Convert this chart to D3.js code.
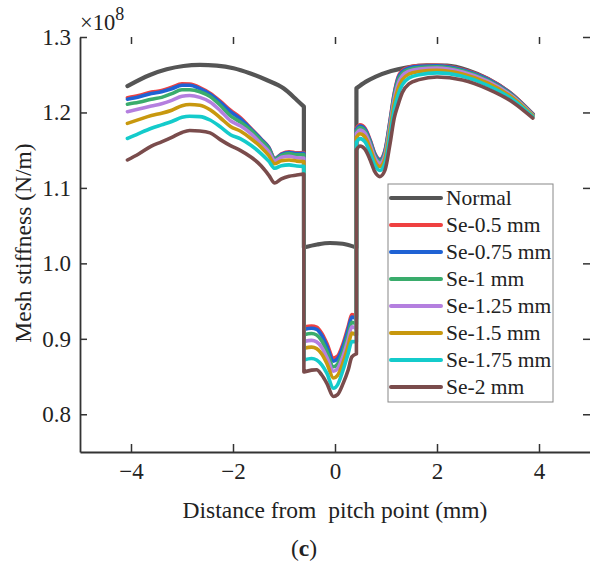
<!DOCTYPE html>
<html><head><meta charset="utf-8">
<script src="https://cdn.jsdelivr.net/npm/d3@7"></script>
<style>
body{margin:0;background:#fff;}
</style>
</head><body>
<svg id="chart" width="590" height="567"></svg>
<script>
// ---------- data ----------
const seriesNames = ["Normal","Se-0.5 mm","Se-0.75 mm","Se-1 mm","Se-1.25 mm","Se-1.5 mm","Se-1.75 mm","Se-2 mm"];
const seriesColors = ["#555555","#ef4141","#1f62d4","#3aac6c","#b47fdf","#c8980e","#14cbcb","#7a4c4c"];
const xTicks = [-4,-2,0,2,4];
const yTicks = [0.8,0.9,1.0,1.1,1.2,1.3];

// Normal gear (three contact zones)
const normalLeftX  = [-4.07,-3.63,-3.30,-2.97,-2.65,-2.32,-1.99,-1.67,-1.34,-1.01,-0.75,-0.61];
const normalLeftY  = [1.2350,1.2497,1.2572,1.2616,1.2630,1.2620,1.2585,1.2519,1.2430,1.2320,1.2166,1.2077];
const normalMidX   = [-0.61,-0.35,-0.10,0.15,0.42];
const normalMidY   = [1.0210,1.0250,1.0270,1.0260,1.0210];
const normalRightX = [0.42,0.60,0.80,1.10,1.40,1.80,2.20,2.60,3.00,3.40,3.88];
const normalRightY = [1.2320,1.2405,1.2475,1.2550,1.2595,1.2625,1.2620,1.2560,1.2445,1.2275,1.1975];

// Faulty gears: shared x positions per zone
const gridLeftX  = [-4.07,-3.85,-3.6,-3.4,-3.2,-3.0,-2.85,-2.65,-2.45,-2.25,-2.05,-1.85,-1.65,-1.45,-1.3,-1.18,-1.05,-0.9,-0.75,-0.61];
const gridMidX   = [-0.61,-0.46,-0.36,-0.26,-0.16,-0.03,0.05,0.16,0.26,0.33,0.42];
const gridRightX = [0.42,0.49,0.59,0.69,0.78,0.88,0.98,1.08,1.16,1.24,1.32,1.45,1.65,2.0,2.5,3.0,3.5,3.88];

const se050Left  = [1.2195,1.2225,1.2270,1.2290,1.2335,1.2380,1.2375,1.2330,1.2255,1.2150,1.2030,1.1930,1.1790,1.1650,1.1540,1.1390,1.1450,1.1480,1.1465,1.1470];
const se050Mid   = [0.9155,0.9170,0.9155,0.9075,0.8940,0.8745,0.8770,0.8940,0.9165,0.9320,0.9295];
const se050Right = [1.1790,1.1835,1.1790,1.1635,1.1460,1.1380,1.1500,1.1900,1.2250,1.2475,1.2555,1.2600,1.2620,1.2625,1.2570,1.2445,1.2225,1.1975];

const se075Left  = [1.2175,1.2205,1.2250,1.2275,1.2315,1.2360,1.2360,1.2315,1.2240,1.2135,1.2010,1.1910,1.1780,1.1645,1.1535,1.1385,1.1445,1.1470,1.1455,1.1460];
const se075Mid   = [0.9125,0.9140,0.9125,0.9045,0.8905,0.8705,0.8735,0.8905,0.9130,0.9290,0.9265];
const se075Right = [1.1776,1.1821,1.1776,1.1622,1.1448,1.1369,1.1487,1.1885,1.2234,1.2457,1.2541,1.2589,1.2611,1.2617,1.2563,1.2438,1.2220,1.1973];

const se100Left  = [1.2110,1.2135,1.2175,1.2200,1.2250,1.2300,1.2300,1.2275,1.2210,1.2095,1.1955,1.1870,1.1765,1.1630,1.1520,1.1380,1.1430,1.1455,1.1440,1.1440];
const se100Mid   = [0.9055,0.9070,0.9050,0.8975,0.8835,0.8630,0.8665,0.8840,0.9060,0.9220,0.9195];
const se100Right = [1.1753,1.1799,1.1754,1.1601,1.1428,1.1350,1.1466,1.1860,1.2207,1.2428,1.2517,1.2571,1.2596,1.2605,1.2552,1.2427,1.2213,1.1969];

const se125Left  = [1.2010,1.2045,1.2085,1.2115,1.2160,1.2215,1.2225,1.2200,1.2140,1.2025,1.1890,1.1820,1.1720,1.1585,1.1480,1.1360,1.1405,1.1420,1.1400,1.1395];
const se125Mid   = [0.8965,0.8980,0.8960,0.8885,0.8755,0.8570,0.8605,0.8775,0.8995,0.9160,0.9135];
const se125Right = [1.1722,1.1768,1.1723,1.1571,1.1401,1.1325,1.1436,1.1826,1.2171,1.2387,1.2485,1.2547,1.2576,1.2588,1.2536,1.2413,1.2202,1.1963];

const se150Left  = [1.1855,1.1905,1.1960,1.1990,1.2030,1.2090,1.2105,1.2095,1.2035,1.1930,1.1815,1.1750,1.1655,1.1540,1.1430,1.1320,1.1360,1.1370,1.1355,1.1350];
const se150Mid   = [0.8875,0.8890,0.8870,0.8800,0.8675,0.8480,0.8515,0.8690,0.8910,0.9075,0.9050];
const se150Right = [1.1670,1.1717,1.1672,1.1524,1.1357,1.1283,1.1389,1.1770,1.2111,1.2322,1.2433,1.2508,1.2542,1.2560,1.2511,1.2388,1.2185,1.1954];

const se175Left  = [1.1655,1.1720,1.1790,1.1835,1.1880,1.1935,1.1950,1.1945,1.1900,1.1810,1.1705,1.1650,1.1565,1.1455,1.1355,1.1260,1.1295,1.1305,1.1290,1.1285];
const se175Mid   = [0.8720,0.8740,0.8720,0.8655,0.8545,0.8345,0.8390,0.8590,0.8810,0.8965,0.8960];
const se175Right = [1.1605,1.1653,1.1608,1.1463,1.1301,1.1231,1.1328,1.1699,1.2036,1.2238,1.2367,1.2457,1.2500,1.2524,1.2479,1.2357,1.2163,1.1943];

const se200Left  = [1.1370,1.1450,1.1555,1.1610,1.1670,1.1735,1.1760,1.1755,1.1730,1.1640,1.1560,1.1495,1.1410,1.1295,1.1170,1.1065,1.1120,1.1155,1.1170,1.1185];
const se200Mid   = [0.8560,0.8585,0.8590,0.8520,0.8410,0.8235,0.8260,0.8410,0.8590,0.8760,0.8800];
const se200Right = [1.1505,1.1555,1.1510,1.1370,1.1215,1.1150,1.1235,1.1590,1.1920,1.2110,1.2265,1.2380,1.2435,1.2470,1.2430,1.2310,1.2130,1.1925];

// ---------- assembly ----------
const zip = (xs, ys) => xs.map((v, i) => [v, ys[i]]);
const allSeries = [
  [zip(normalLeftX, normalLeftY), zip(normalMidX, normalMidY), zip(normalRightX, normalRightY)],
  [zip(gridLeftX, se050Left), zip(gridMidX, se050Mid), zip(gridRightX, se050Right)],
  [zip(gridLeftX, se075Left), zip(gridMidX, se075Mid), zip(gridRightX, se075Right)],
  [zip(gridLeftX, se100Left), zip(gridMidX, se100Mid), zip(gridRightX, se100Right)],
  [zip(gridLeftX, se125Left), zip(gridMidX, se125Mid), zip(gridRightX, se125Right)],
  [zip(gridLeftX, se150Left), zip(gridMidX, se150Mid), zip(gridRightX, se150Right)],
  [zip(gridLeftX, se175Left), zip(gridMidX, se175Mid), zip(gridRightX, se175Right)],
  [zip(gridLeftX, se200Left), zip(gridMidX, se200Mid), zip(gridRightX, se200Right)]
];

// ---------- drawing ----------
const FONT = '"Liberation Serif","Times New Roman",Tinos,serif';
const svg = d3.select("#chart");
const x = d3.scaleLinear().domain([-5, 5]).range([80, 590]);
const y = d3.scaleLinear().domain([0.75, 1.3]).range([452, 37]);

const line = d3.line().x(d => x(d[0])).y(d => y(d[1])).curve(d3.curveMonotoneX);

allSeries.forEach((segs, i) => {
  const d = segs.map((s, k) => {
    const p = line(s);
    return k === 0 ? p : "L" + p.slice(1);
  }).join("");
  svg.append("path")
    .attr("d", d)
    .attr("fill", "none")
    .attr("stroke", seriesColors[i])
    .attr("stroke-width", i === 0 ? 4.2 : 3.6)
    .attr("stroke-linejoin", "round")
    .attr("stroke-linecap", "round");
});

// axes
const axisColor = "#333";
const gL = svg.append("g").attr("transform", "translate(80,0)")
  .call(d3.axisLeft(y).tickValues(yTicks).tickFormat(d3.format(".1f"))
    .tickSizeInner(-7).tickSizeOuter(0).tickPadding(9));
const gB = svg.append("g").attr("transform", "translate(0,452)")
  .call(d3.axisBottom(x).tickValues(xTicks).tickFormat(d3.format("d"))
    .tickSizeInner(-8).tickSizeOuter(0).tickPadding(11));
const gT = svg.append("g").attr("transform", "translate(0,37)")
  .call(d3.axisTop(x).tickValues(xTicks).tickFormat("").tickSizeInner(-7).tickSizeOuter(0));
const gR = svg.append("g").attr("transform", "translate(590,0)")
  .call(d3.axisRight(y).tickValues(yTicks).tickFormat("").tickSizeInner(-7).tickSizeOuter(0));
gT.select(".domain").remove();
gR.select(".domain").remove();
[gL, gB, gT, gR].forEach(g => {
  g.selectAll(".domain").attr("stroke", axisColor).attr("stroke-width", 1.8);
  g.selectAll(".tick line").attr("stroke", axisColor).attr("stroke-width", 1.5);
  g.selectAll(".tick text").attr("font-size", 23).style("font-family", FONT).attr("fill", "#222");
});

// exponent label
const ex = svg.append("text").attr("x", 80).attr("y", 30).attr("font-size", 22.5)
  .style("font-family", FONT).attr("fill", "#222");
ex.append("tspan").text("×10");
ex.append("tspan").attr("dy", -10).attr("font-size", 18).text("8");

// axis titles
svg.append("text")
  .attr("transform", "translate(31,243) rotate(-90)")
  .attr("text-anchor", "middle").attr("font-size", 23.5).attr("fill", "#222")
  .style("font-family", FONT)
  .text("Mesh stiffness (N/m)");
svg.append("text")
  .attr("x", 335).attr("y", 518)
  .attr("text-anchor", "middle").attr("font-size", 23.5).attr("fill", "#222")
  .style("font-family", FONT)
  .style("white-space", "pre")
  .text("Distance from  pitch point (mm)");
const cap = svg.append("text").attr("x", 304).attr("y", 556)
  .attr("text-anchor", "middle").attr("font-size", 23.5).attr("fill", "#222")
  .style("font-family", FONT);
cap.append("tspan").text("(");
cap.append("tspan").attr("font-weight", "bold").text("c");
cap.append("tspan").text(")");

// legend
const lg = svg.append("g");
lg.append("rect").attr("x", 388).attr("y", 184).attr("width", 165).attr("height", 218)
  .attr("fill", "#fff").attr("stroke", "#888").attr("stroke-width", 1);
seriesNames.forEach((name, i) => {
  const yy = 198 + i * 27;
  lg.append("line").attr("x1", 391).attr("x2", 441).attr("y1", yy).attr("y2", yy)
    .attr("stroke", seriesColors[i]).attr("stroke-width", 4).attr("stroke-linecap", "round");
  lg.append("text").attr("x", 446).attr("y", yy + 7).attr("font-size", 21.5).attr("fill", "#222")
    .style("font-family", FONT).text(name);
});
</script>
</body></html>
